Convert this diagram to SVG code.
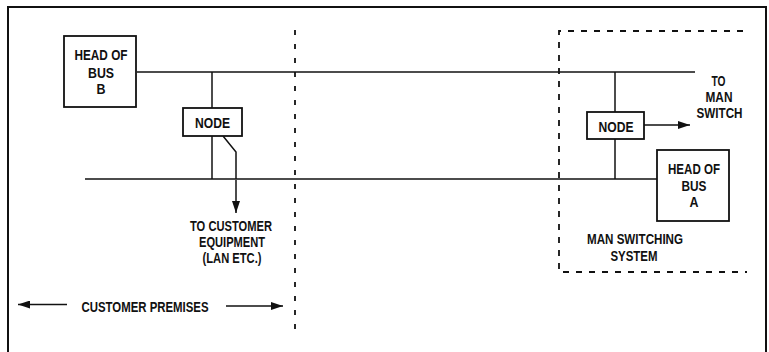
<svg xmlns="http://www.w3.org/2000/svg" width="769" height="352" viewBox="0 0 769 352">
<defs>
<style>
.box{fill:#fff;stroke:#111;stroke-width:1.8}
.ln{fill:none;stroke:#111;stroke-width:1.5}
.dash{fill:none;stroke:#111;stroke-width:1.8}
.t{font-family:"Liberation Sans",Arial,sans-serif;font-size:15px;font-weight:bold;fill:#111;text-anchor:middle}
</style>
<marker id="ah" viewBox="0 0 12 8" refX="12" refY="4" markerWidth="12" markerHeight="8" markerUnits="userSpaceOnUse" orient="auto">
<path d="M0,0 L12,4 L0,8 Z" fill="#111"/>
</marker>
</defs>
<rect width="769" height="352" fill="#fff"/>
<path d="M8,360 V7 H766 V360" fill="none" stroke="#111" stroke-width="2"/>
<g id="boundaries">
<line class="dash" x1="295" y1="30" x2="295" y2="333" stroke-dasharray="5 9"/>
<path class="dash" d="M743,31 H559 V272 H747" stroke-dasharray="6 7"/>
</g>
<g id="connectors">
<line class="ln" x1="137" y1="72" x2="695" y2="72"/>
<line class="ln" x1="85" y1="179" x2="657" y2="179"/>
<line class="ln" x1="212" y1="72" x2="212" y2="108"/>
<line class="ln" x1="212" y1="136" x2="212" y2="179"/>
<polyline class="ln" points="223,136 236,152 236,179"/>
<line class="ln" x1="236" y1="180" x2="236" y2="213" marker-end="url(#ah)"/>
<line class="ln" x1="615" y1="72" x2="615" y2="112"/>
<line class="ln" x1="615" y1="139" x2="615" y2="179"/>
<line class="ln" x1="644" y1="125" x2="690" y2="125" marker-end="url(#ah)"/>
<line class="ln" x1="67" y1="304.5" x2="18" y2="304.5" marker-end="url(#ah)"/>
<line class="ln" x1="226" y1="306" x2="283" y2="306" marker-end="url(#ah)"/>
</g>
<g id="head-of-bus-b">
<rect class="box" x="64" y="36" width="72" height="71"/>
<text class="t" x="101" y="60" textLength="53" lengthAdjust="spacingAndGlyphs">HEAD OF</text>
<text class="t" x="101" y="78" textLength="26" lengthAdjust="spacingAndGlyphs">BUS</text>
<text class="t" x="101" y="94" textLength="9" lengthAdjust="spacingAndGlyphs">B</text>
</g>
<g id="node-b">
<rect class="box" x="183" y="108" width="59" height="28"/>
<text class="t" x="212.5" y="128" textLength="35" lengthAdjust="spacingAndGlyphs">NODE</text>
</g>
<g id="node-a">
<rect class="box" x="587" y="112" width="57" height="27"/>
<text class="t" x="616" y="131.5" textLength="35" lengthAdjust="spacingAndGlyphs">NODE</text>
</g>
<g id="head-of-bus-a">
<rect class="box" x="657" y="150" width="72" height="71"/>
<text class="t" x="694" y="174" textLength="52" lengthAdjust="spacingAndGlyphs">HEAD OF</text>
<text class="t" x="694" y="191" textLength="25" lengthAdjust="spacingAndGlyphs">BUS</text>
<text class="t" x="694" y="207" textLength="9" lengthAdjust="spacingAndGlyphs">A</text>
</g>
<g id="label-customer-equipment">
<text class="t" x="231" y="231" textLength="82" lengthAdjust="spacingAndGlyphs">TO CUSTOMER</text>
<text class="t" x="232" y="247" textLength="66" lengthAdjust="spacingAndGlyphs">EQUIPMENT</text>
<text class="t" x="232" y="263" textLength="59" lengthAdjust="spacingAndGlyphs">(LAN ETC.)</text>
</g>
<g id="label-man-switch">
<text class="t" x="718.5" y="85.5" textLength="14" lengthAdjust="spacingAndGlyphs">TO</text>
<text class="t" x="719" y="102" textLength="27" lengthAdjust="spacingAndGlyphs">MAN</text>
<text class="t" x="719.5" y="118" textLength="46" lengthAdjust="spacingAndGlyphs">SWITCH</text>
</g>
<g id="label-man-switching-system">
<text class="t" x="635" y="244" textLength="96" lengthAdjust="spacingAndGlyphs">MAN SWITCHING</text>
<text class="t" x="634" y="261" textLength="47" lengthAdjust="spacingAndGlyphs">SYSTEM</text>
</g>
<g id="label-customer-premises">
<text class="t" x="145" y="311.5" textLength="127" lengthAdjust="spacingAndGlyphs">CUSTOMER PREMISES</text>
</g>
</svg>
